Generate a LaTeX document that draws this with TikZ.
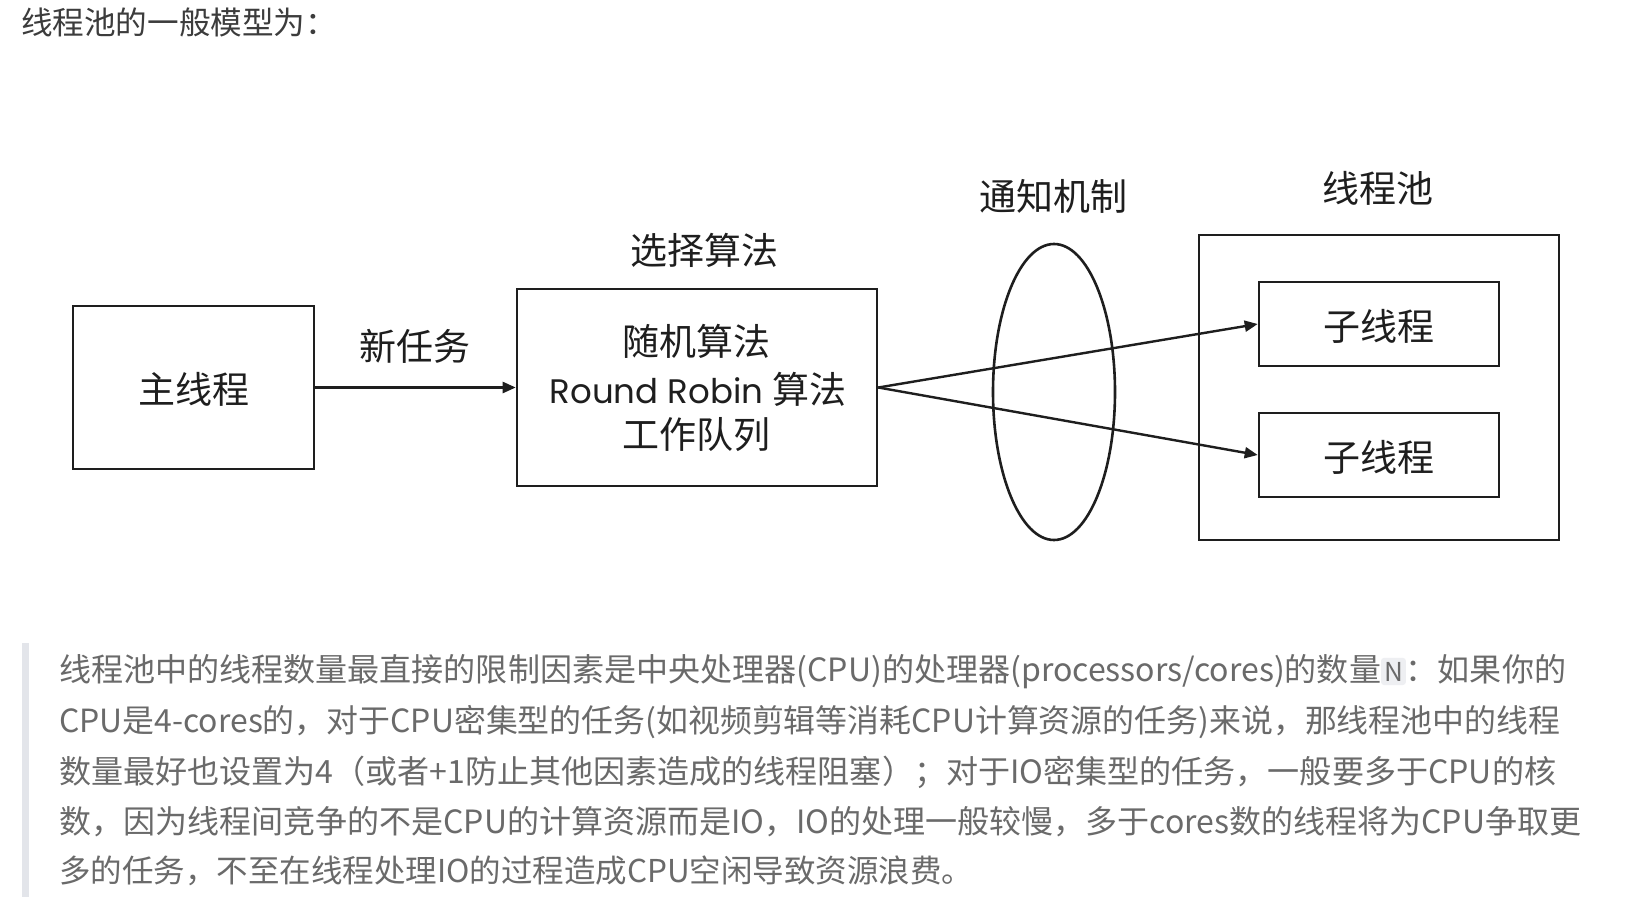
\documentclass[tikz,border=0pt]{standalone}
\usepackage{fontspec}
\setmainfont{Noto Sans CJK SC}
\newfontfamily\cjk{Noto Sans CJK SC}
\newfontfamily\geo{Poppins}
\usetikzlibrary{arrows.meta,shapes.geometric}
\definecolor{ink}{HTML}{1E1E1E}
\definecolor{bodytxt}{HTML}{6A6A6A}
\definecolor{titletxt}{HTML}{3C3C3C}
\definecolor{barcol}{HTML}{E3E5EA}
\definecolor{codebg}{HTML}{EEEFF2}
\tikzset{
  boxstyle/.style={draw=ink, line width=2.6pt, inner sep=0pt},
  lbl/.style={text=ink, font=\cjk\fontsize{37}{44}\selectfont, inner sep=0pt},
  conn/.style={draw=ink, line width=2.4pt, -{Triangle[length=13pt,width=11pt]}},
  bodyline/.style={anchor=base west, text=bodytxt, inner sep=0pt},
}
\newcommand{\bfs}{\cjk\fontsize{32}{38}\selectfont}
\newcommand{\codeN}{\tikz[baseline=(cn.base)]\node[fill=codebg, rounded corners=3pt, inner xsep=3pt, inner ysep=4pt, text=bodytxt] (cn) {\fontsize{26}{30}\selectfont N};}
\begin{document}
\begin{tikzpicture}[x=1pt, y=-1pt]
\useasboundingbox (0,0) rectangle (1631,908);
\fill[white] (0,0) rectangle (1631,908);

% title
\node[anchor=base west, text=titletxt, inner sep=0pt] (title) at (21,34)
  {\resizebox{316pt}{!}{\cjk\fontsize{30}{36}\selectfont 线程池的一般模型为：}};

% diagram
\node[boxstyle, minimum width=241pt, minimum height=163pt] (main) at (193.5,387.5) {};
\node[lbl] (mainlbl) at (193.5,389) {主线程};

\node[boxstyle, minimum width=360pt, minimum height=197pt] (sel) at (697,387.5) {};
\node[lbl] (sel1) at (696,341) {随机算法};
\node[text=ink, inner sep=0pt] (sel2) at (698,389) {{\geo\fontsize{34}{40}\selectfont Round Robin}\hspace{9pt}{\cjk\fontsize{37}{44}\selectfont 算法}};
\node[lbl] (sel3) at (696,435) {工作队列};
\node[lbl] (seltitle) at (704,250) {选择算法};

\node[lbl] (newtask) at (415,346) {新任务};

\node[draw=ink, line width=2.6pt, ellipse, minimum width=122pt, minimum height=296pt, inner sep=0pt] (notify) at (1054,392) {};
\node[lbl] (notifylbl) at (1053,196) {通知机制};

\node[boxstyle, minimum width=360pt, minimum height=305pt] (pool) at (1379,387.5) {};
\node[lbl] (poollbl) at (1378,188) {线程池};
\node[boxstyle, minimum width=240pt, minimum height=84pt] (sub1) at (1379,324) {};
\node[lbl] (sub1lbl) at (1379,326) {子线程};
\node[boxstyle, minimum width=240pt, minimum height=84pt] (sub2) at (1379,455) {};
\node[lbl] (sub2lbl) at (1379,457) {子线程};

\coordinate (selout) at (sel.east);
\draw[conn] (main.east) -- (sel.west);
\draw[conn] (selout) -- (sub1.west);
\draw[conn] (selout) -- (sub2.west);

% quote block
\fill[barcol] (22,643) rectangle (29,897);
\node[bodyline] (l1) at (59,681) {\resizebox{1507pt}{!}{\bfs 线程池中的线程数量最直接的限制因素是中央处理器(CPU)的处理器(processors/cores)的数量\codeN：如果你的}};
\node[bodyline] (l2) at (59,732) {\resizebox{1501pt}{!}{\bfs CPU是4-cores的，对于CPU密集型的任务(如视频剪辑等消耗CPU计算资源的任务)来说，那线程池中的线程}};
\node[bodyline] (l3) at (59,783) {\resizebox{1497pt}{!}{\bfs 数量最好也设置为4（或者+1防止其他因素造成的线程阻塞）；对于IO密集型的任务，一般要多于CPU的核}};
\node[bodyline] (l4) at (59,833) {\resizebox{1522pt}{!}{\bfs 数，因为线程间竞争的不是CPU的计算资源而是IO，IO的处理一般较慢，多于cores数的线程将为CPU争取更}};
\node[bodyline] (l5) at (59,882) {\resizebox{914pt}{!}{\bfs 多的任务，不至在线程处理IO的过程造成CPU空闲导致资源浪费。}};
\end{tikzpicture}
\end{document}
